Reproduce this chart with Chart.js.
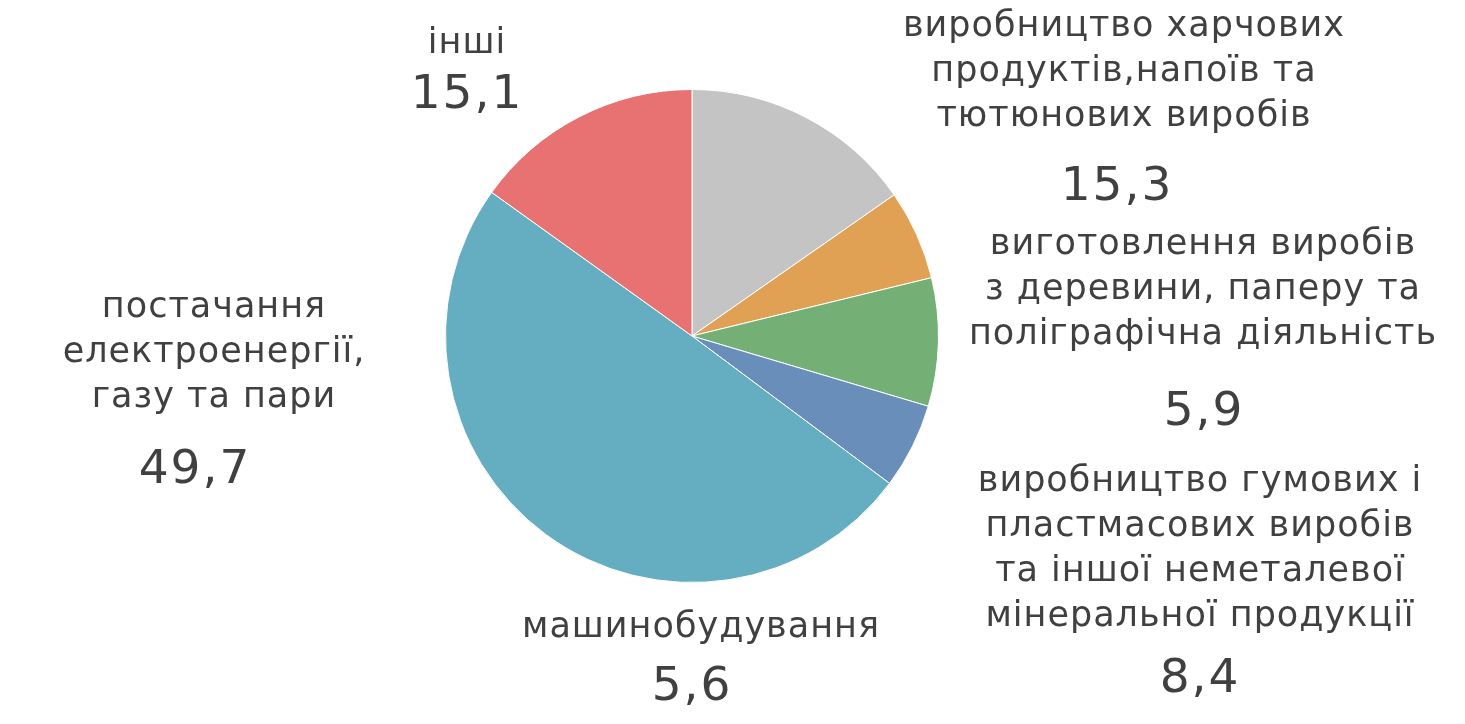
<!DOCTYPE html>
<html>
<head>
<meta charset="utf-8">
<script src="https://cdn.jsdelivr.net/npm/chart.js@4"></script>
<style>
  html, body { margin: 0; padding: 0; background: #fff; }
  #wrap { width: 1465px; height: 724px; }
</style>
</head>
<body>
<div id="wrap"><canvas id="myChart"></canvas></div>
<script>
// категорії (рядки підпису) і значення, %
const categories = [
  ["виробництво харчових", "продуктів,напоїв та", "тютюнових виробів"],
  ["виготовлення виробів", "з деревини, паперу та", "поліграфічна діяльність"],
  ["виробництво гумових і", "пластмасових виробів", "та іншої неметалевої", "мінеральної продукції"],
  ["машинобудування"],
  ["постачання", "електроенергії,", "газу та пари"],
  ["інші"]
];
const values = [15.3, 5.9, 8.4, 5.6, 49.7, 15.1];
const colors = ["#c4c4c4", "#e0a154", "#74b076", "#688eb9", "#65adc1", "#e87272"];

// where each label sits, relative to pie centre: [dx, first baseline dy, value dx, value dy]
const labelPos = [
  [432, -300, 425, -136],
  [511, -82, 512, 89],
  [508, 155, 508, 356],
  [9, 301, 0, 364],
  [-478, -19, -497, 147],
  [-225, -283, -225, -228]
];

const labelPlugin = {
  id: "sliceLabels",
  afterDraw(chart) {
    const ctx = chart.ctx;
    const meta = chart.getDatasetMeta(0);
    ctx.save();
    ctx.fillStyle = "#404040";
    ctx.textAlign = "center";
    ctx.textBaseline = "alphabetic";
    meta.data.forEach((arc, i) => {
      const p = labelPos[i];
      ctx.font = "35px 'DejaVu Sans'";
      ctx.letterSpacing = "1px";
      categories[i].forEach((line, k) => {
        ctx.fillText(line, arc.x + p[0], arc.y + p[1] + k * 45);
      });
      ctx.font = "47px 'DejaVu Sans'";
      ctx.letterSpacing = "2px";
      ctx.fillText(values[i].toFixed(1).replace(".", ","), arc.x + p[2], arc.y + p[3]);
    });
    ctx.restore();
  }
};

new Chart(document.getElementById("myChart"), {
  type: "pie",
  data: {
    labels: categories.map(c => c.join(" ")),
    datasets: [{
      data: values,
      backgroundColor: colors,
      borderColor: "#ffffff",
      borderWidth: 1,
      hoverOffset: 0
    }]
  },
  options: {
    responsive: true,
    maintainAspectRatio: false,
    animation: false,
    layout: { padding: { left: 445, right: 526, top: 89, bottom: 141 } },
    plugins: {
      legend: { display: false },
      tooltip: { enabled: false }
    }
  },
  plugins: [labelPlugin]
});
</script>
</body>
</html>
